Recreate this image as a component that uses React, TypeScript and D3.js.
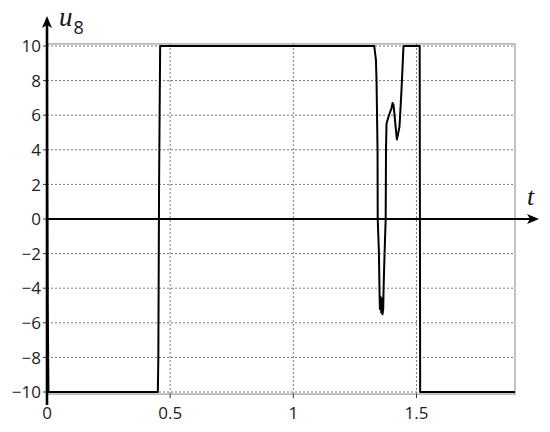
import React, { useEffect, useRef } from 'react';
import * as d3 from 'd3';

// time samples and control values u8(t)
const tValues = [
  0, 0.001, 0.003, 0.005, 0.006, 0.45, 0.452, 0.455, 0.4594,
  1.3285, 1.3354, 1.3378, 1.3394, 1.3419, 1.3427, 1.3447, 1.3475, 1.35, 1.3516,
  1.354, 1.3569, 1.3597, 1.3621, 1.365, 1.3662, 1.369, 1.3718, 1.375, 1.3763,
  1.3783, 1.3852, 1.3933, 1.3986, 1.4027, 1.4067, 1.4096, 1.4165, 1.4205,
  1.4258, 1.4311, 1.4392, 1.4448, 1.4473, 1.507, 1.513, 1.515, 1.9,
];
const uValues = [
  10, 2, -5, -8.5, -10, -10, -8, 2, 10,
  10, 9.2, 8.0, 6.5, 4.0, 0, -0.8, -1.9, -4.2, -5.2,
  -4.5, -5.4, -4.6, -5.5, -5.2, -4.2, -2.7, -1.4, 0, 4.0,
  5.5, 5.85, 6.2, 6.4, 6.7, 6.6, 6.2, 5.15, 4.6,
  4.95, 5.35, 7.45, 9.2, 10, 10, 10, -10, -10,
];
const yTicks = [-10, -8, -6, -4, -2, 0, 2, 4, 6, 8, 10];
const xTicks = [0, 0.5, 1, 1.5];
const xTickLabels = ['0', '0.5', '1', '1.5'];

const W = 550;
const H = 432;
const sans = '"Open Sans", "Noto Sans", sans-serif';
const serif = '"Liberation Serif", "DejaVu Serif", serif';

const App = () => {
  const svgRef = useRef<SVGSVGElement>(null);

  useEffect(() => {
    if (!svgRef.current) return;
    const svg = d3.select(svgRef.current);
    svg.selectAll('*').remove();

    const x = d3.scaleLinear().domain([0, 1.9]).range([47, 515]);
    const y = d3.scaleLinear().domain([-10, 10]).range([392, 46]);

    // frame
    svg.append('rect')
      .attr('x', x(0)).attr('y', y(10.12))
      .attr('width', x(1.9) - x(0)).attr('height', y(-10.12) - y(10.12))
      .attr('fill', 'none').attr('stroke', '#9a9a9a').attr('stroke-width', 1.2);

    // dotted grid
    svg.selectAll('.hgrid').data(yTicks).join('line')
      .attr('class', 'hgrid')
      .attr('x1', x(0)).attr('x2', x(1.9))
      .attr('y1', d => y(d)).attr('y2', d => y(d))
      .attr('stroke', '#777').attr('stroke-width', 1).attr('stroke-dasharray', '2,2');
    svg.selectAll('.vgrid').data(xTicks.filter(d => d > 0)).join('line')
      .attr('class', 'vgrid')
      .attr('x1', d => x(d)).attr('x2', d => x(d))
      .attr('y1', y(10.12)).attr('y2', y(-10.12))
      .attr('stroke', '#777').attr('stroke-width', 1).attr('stroke-dasharray', '2,2');

    // small ticks
    svg.selectAll('.ytick').data(yTicks).join('line')
      .attr('class', 'ytick')
      .attr('x1', x(0) - 4).attr('x2', x(0))
      .attr('y1', d => y(d)).attr('y2', d => y(d))
      .attr('stroke', '#333').attr('stroke-width', 1);
    svg.selectAll('.xtick').data(xTicks).join('line')
      .attr('class', 'xtick')
      .attr('x1', d => x(d)).attr('x2', d => x(d))
      .attr('y1', y(-10.12)).attr('y2', y(-10.12) + 4)
      .attr('stroke', '#333').attr('stroke-width', 1);

    // tick labels
    svg.selectAll('.ylab').data(yTicks).join('text')
      .attr('class', 'ylab')
      .attr('x', 41).attr('y', d => y(d)).attr('dy', '0.36em')
      .attr('text-anchor', 'end').attr('font-family', sans).attr('font-size', 17)
      .attr('fill', '#222')
      .text(d => (d < 0 ? '\u2212' + Math.abs(d) : String(d)));
    svg.selectAll('.xlab').data(xTicks).join('text')
      .attr('class', 'xlab')
      .attr('x', d => x(d)).attr('y', 419)
      .attr('text-anchor', 'middle').attr('font-family', sans).attr('font-size', 17)
      .attr('fill', '#222')
      .text((d, i) => xTickLabels[i]);

    // the signal
    const pts = tValues.map((t, i) => [t, uValues[i]] as [number, number]);
    const line = d3.line<[number, number]>().x(d => x(d[0])).y(d => y(d[1]));
    svg.append('path').datum(pts)
      .attr('d', line)
      .attr('fill', 'none').attr('stroke', '#000').attr('stroke-width', 2)
      .attr('stroke-linejoin', 'round');

    // axes with arrows
    const x0 = x(0);
    const y0 = y(0);
    svg.append('line')
      .attr('x1', x0).attr('x2', 530).attr('y1', y0).attr('y2', y0)
      .attr('stroke', '#000').attr('stroke-width', 2.2);
    svg.append('path')
      .attr('d', `M539,${y0} L527,${y0 - 5} L530,${y0} L527,${y0 + 5} Z`)
      .attr('fill', '#000');
    svg.append('line')
      .attr('x1', x0).attr('x2', x0).attr('y1', 405).attr('y2', 24)
      .attr('stroke', '#000').attr('stroke-width', 2.6);
    svg.append('path')
      .attr('d', `M${x0},16 L${x0 - 5},28 L${x0},25 L${x0 + 5},28 Z`)
      .attr('fill', '#000');

    // axis names
    const u = svg.append('text')
      .attr('x', 59).attr('y', 26)
      .attr('font-family', serif).attr('font-style', 'italic').attr('font-size', 27)
      .attr('fill', '#141428');
    u.append('tspan').text('u');
    u.append('tspan').attr('font-family', sans).attr('font-style', 'normal')
      .attr('font-size', 18).attr('dy', 8).attr('dx', 1).text('8');
    svg.append('text')
      .attr('x', 527).attr('y', 205)
      .attr('font-family', serif).attr('font-style', 'italic').attr('font-size', 26)
      .attr('fill', '#141428')
      .text('t');
  }, []);

  return (
    <div style={{ position: 'absolute', left: 0, top: 0, background: '#fff' }}>
      <svg ref={svgRef} width={W} height={H} style={{ display: 'block' }} />
    </div>
  );
};

export default App;
